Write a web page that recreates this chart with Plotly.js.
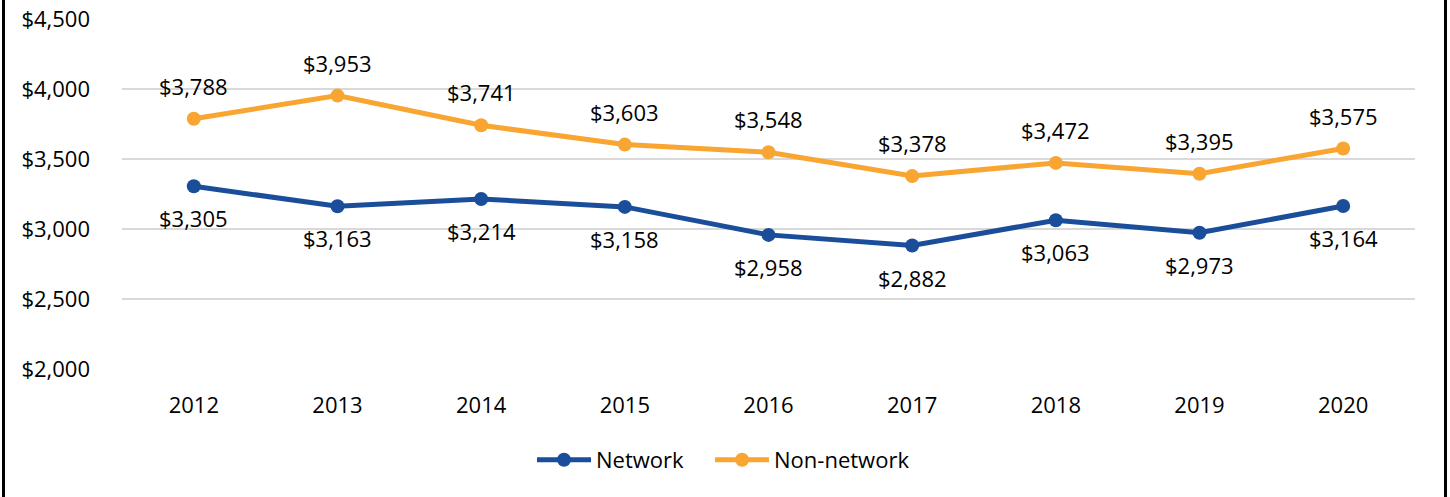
<!DOCTYPE html>
<html>
<head>
<meta charset="utf-8">
<script src="https://cdn.plot.ly/plotly-3.0.1.min.js"></script>
<style>
html,body{margin:0;padding:0;background:#fff;overflow:hidden;}
#chart{position:absolute;left:0;top:0;width:1450px;height:497px;}
.bl{position:absolute;top:0;height:497px;width:3px;background:#000;}
</style>
</head>
<body>
<div id="chart"></div>
<div class="bl" style="left:2px"></div>
<div class="bl" style="left:1444px"></div>
<script>
const years = ['2012','2013','2014','2015','2016','2017','2018','2019','2020'];
const network = [3305,3163,3214,3158,2958,2882,3063,2973,3164];
const nonNetwork = [3788,3953,3741,3603,3548,3378,3472,3395,3575];

const NAVY = '#1A4E9A';
const ORANGE = '#F9A532';
const FONT = 'Open Sans, Noto Sans, sans-serif';
const FS = 22;

function fmt(v){ return '$' + String(v).replace(/\B(?=(\d{3})+(?!\d))/g, ','); }

const traces = [
  {x: years, y: network, name: 'Network', type: 'scatter', mode: 'lines+markers',
   line: {color: NAVY, width: 5}, marker: {color: NAVY, size: 14}, legend: 'legend'},
  {x: years, y: nonNetwork, name: 'Non-network', type: 'scatter', mode: 'lines+markers',
   line: {color: ORANGE, width: 5}, marker: {color: ORANGE, size: 14}, legend: 'legend2'}
];

const annotations = [];
years.forEach((yr, i) => {
  annotations.push({x: i, y: network[i], text: fmt(network[i]), showarrow: false,
    xref: 'x', yref: 'y', yshift: -32, font: {family: FONT, size: FS, color: '#000'}});
  annotations.push({x: i, y: nonNetwork[i], text: fmt(nonNetwork[i]), showarrow: false,
    xref: 'x', yref: 'y', yshift: 33, font: {family: FONT, size: FS, color: '#000'}});
});

const legendBase = {orientation: 'h', xanchor: 'left', y: -0.26, yanchor: 'middle',
  font: {family: FONT, size: FS, color: '#000'}, itemwidth: 54, bgcolor: 'rgba(0,0,0,0)'};

const layout = {
  width: 1450, height: 497,
  margin: {l: 122, r: 35, t: 19, b: 128},
  paper_bgcolor: '#fff', plot_bgcolor: '#fff',
  font: {family: FONT, size: FS, color: '#000'},
  xaxis: {type: 'category', range: [-0.5, 8.5], showgrid: false, zeroline: false,
          showline: false, ticks: '', ticklabelstandoff: 21,
          tickfont: {family: FONT, size: FS, color: '#000'}},
  yaxis: {range: [2000, 4500], dtick: 500, tick0: 2000, showgrid: true, gridcolor: '#D9D9D9',
          gridwidth: 2, zeroline: false, showline: false, ticks: '', ticklabelstandoff: 31,
          tickprefix: '$', separatethousands: true, tickformat: ',d',
          tickfont: {family: FONT, size: FS, color: '#000'}},
  showlegend: true,
  legend: Object.assign({}, legendBase, {x: 0.3171}),
  legend2: Object.assign({}, legendBase, {x: 0.4548}),
  annotations: annotations
};

Plotly.newPlot('chart', traces, layout, {displayModeBar: false, staticPlot: true});
</script>
</body>
</html>
